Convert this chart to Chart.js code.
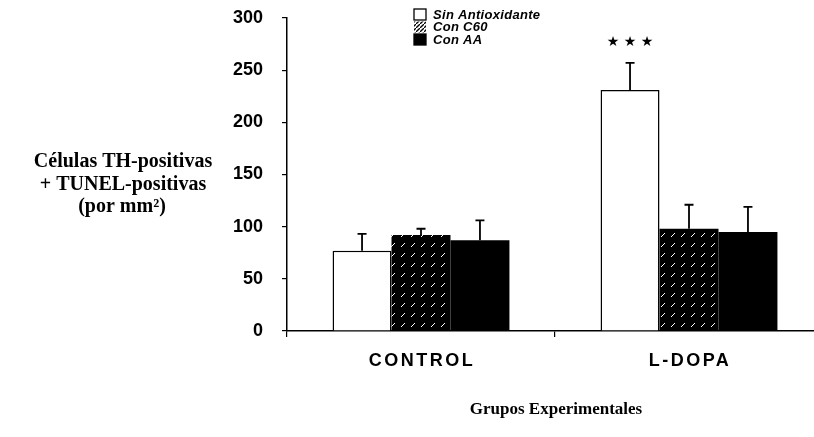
<!DOCTYPE html>
<html>
<head>
<meta charset="utf-8">
<script src="https://cdn.jsdelivr.net/npm/chart.js@4.4.0/dist/chart.umd.min.js"></script>
<style>
  html, body { margin: 0; padding: 0; background: #fff; overflow: hidden; }
  #wrap { width: 824px; height: 437px; }
</style>
</head>
<body>
<div id="wrap"><canvas id="c" width="824" height="437"></canvas></div>
<script>
// data
const groups = ['CONTROL', 'L-DOPA'];
const seriesNames = ['Sin Antioxidante', 'Con C60', 'Con AA'];
const sinAntiox = [77, 231];
const conC60 = [92, 98];
const conAA = [87, 95];
const errSin = [16, 26];
const errC60 = [6, 23];
const errAA = [19, 24];
const sigMarks = ['', '\u2605 \u2605 \u2605'];
const yTicks = [0, 50, 100, 150, 200, 250, 300];

// hatch pattern for "Con C60" (dark, sparse white strokes as in the scan)
function hatch(bg, fg, size) {
  const p = document.createElement('canvas');
  p.width = size; p.height = size;
  const g = p.getContext('2d');
  g.fillStyle = bg; g.fillRect(0, 0, size, size);
  g.strokeStyle = fg; g.lineWidth = 1;
  g.beginPath(); g.moveTo(1, size - 3); g.lineTo(5, size - 7); g.stroke();
  return g.createPattern(p, 'repeat');
}
const ctx = document.getElementById('c').getContext('2d');
const barHatch = hatch('#000', '#fff', 10);

const fills = ['#fff', barHatch, '#000'];
const errs = [errSin, errC60, errAA];

// error bars, significance marks, legend, labels and titles
const extras = {
  id: 'extras',
  afterDatasetsDraw(chart) {
    const c = chart.ctx, y = chart.scales.y, x = chart.scales.x;
    c.save();
    c.strokeStyle = '#000'; c.lineWidth = 1.8;
    chart.data.datasets.forEach((ds, i) => {
      chart.getDatasetMeta(i).data.forEach((bar, j) => {
        const top = y.getPixelForValue(ds.data[j] + errs[i][j]);
        c.beginPath();
        c.moveTo(bar.x, bar.y); c.lineTo(bar.x, top);
        c.moveTo(bar.x - 4.5, top); c.lineTo(bar.x + 4.5, top);
        c.stroke();
      });
    });
    // significance stars above the first series
    c.fillStyle = '#000';
    c.font = '14px "DejaVu Sans"';
    c.textAlign = 'center'; c.textBaseline = 'middle';
    chart.getDatasetMeta(0).data.forEach((bar, j) => {
      if (!sigMarks[j]) return;
      c.fillText(sigMarks[j], bar.x, y.getPixelForValue(sinAntiox[j] + errSin[j] + 20));
    });
    // category labels (wide spacing as in the original)
    c.font = 'bold 18px "Liberation Sans"';
    c.letterSpacing = '2.5px';
    groups.forEach((g, j) => {
      c.fillText(g, x.getPixelForValue(j) + 1, 361);
    });
    // legend
    c.font = 'italic bold 13px "Liberation Sans"';
    c.letterSpacing = '0.3px';
    c.textAlign = 'left';
    const legHatch = (() => {
      const p = document.createElement('canvas');
      p.width = 4; p.height = 4;
      const g = p.getContext('2d');
      g.fillStyle = '#fff'; g.fillRect(0, 0, 4, 4);
      g.strokeStyle = '#000'; g.lineWidth = 1.3;
      g.beginPath(); g.moveTo(0, 4); g.lineTo(4, 0); g.stroke();
      return g.createPattern(p, 'repeat');
    })();
    const legFills = ['#fff', legHatch, '#000'];
    seriesNames.forEach((n, i) => {
      const ly = 15 + i * 12.5;
      c.fillStyle = legFills[i];
      c.fillRect(414, ly - 6, 12, 11);
      c.lineWidth = 1.3; c.strokeStyle = '#000';
      if (i !== 1) c.strokeRect(414, ly - 6, 12, 11);
      c.fillStyle = '#000';
      c.fillText(n, 433, ly);
    });
    c.letterSpacing = '0px';
    // axis titles
    c.textAlign = 'center';
    c.font = 'bold 20px "Liberation Serif"';
    c.fillText('C\u00e9lulas TH-positivas', 123, 162);
    c.fillText('+ TUNEL-positivas', 123, 185);
    c.fillText('(por mm\u00b2)', 122, 207);
    c.font = 'bold 17px "Liberation Serif"';
    c.fillText('Grupos Experimentales', 556, 410);
    c.restore();
  }
};

new Chart(ctx, {
  type: 'bar',
  data: {
    labels: groups,
    datasets: [
      { label: seriesNames[0], data: sinAntiox, backgroundColor: fills[0], borderColor: '#000', borderWidth: 1.5 },
      { label: seriesNames[1], data: conC60, backgroundColor: fills[1], borderColor: '#000', borderWidth: 0 },
      { label: seriesNames[2], data: conAA, backgroundColor: fills[2], borderColor: '#000', borderWidth: 0 }
    ]
  },
  options: {
    responsive: false,
    animation: false,
    events: [],
    layout: { padding: { top: 18, right: 1, left: 0, bottom: 0 } },
    categoryPercentage: 0.66,
    barPercentage: 1,
    plugins: { legend: { display: false }, tooltip: { enabled: false } },
    scales: {
      x: {
        afterFit(s) { s.height = 106; s.paddingLeft = 0; s.paddingRight = 0; },
        border: { display: true, color: '#000', width: 1.5 },
        grid: { display: true, drawOnChartArea: false, tickLength: 6, color: '#000', lineWidth: 1.2 },
        ticks: { display: false }
      },
      y: {
        min: 0, max: 300,
        afterFit(s) { s.width = 287; s.paddingTop = 0; s.paddingBottom = 0; },
        afterBuildTicks(s) { s.ticks = yTicks.map(v => ({ value: v })); },
        border: { display: true, color: '#000', width: 1.5 },
        grid: { display: true, drawOnChartArea: false, tickLength: 5, color: '#000', lineWidth: 1.2 },
        ticks: { color: '#000', padding: 19, font: { family: 'Liberation Sans', weight: 'bold', size: 18 } }
      }
    }
  },
  plugins: [extras]
});
</script>
</body>
</html>
